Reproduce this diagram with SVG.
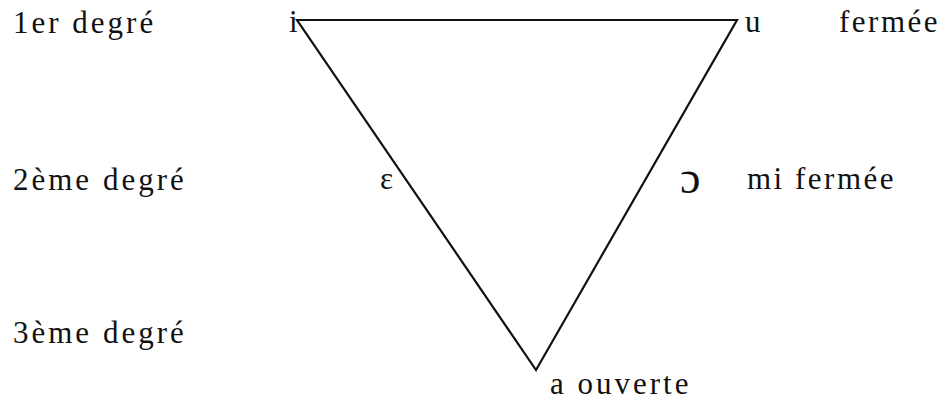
<svg xmlns="http://www.w3.org/2000/svg" width="948" height="401" viewBox="0 0 948 401" font-family="Liberation Serif, Times New Roman, DejaVu Serif, serif">
<style>
text{font-family:'Liberation Serif','Times New Roman','DejaVu Serif',serif;font-size:31px;fill:#111;letter-spacing:3px}
.edge{fill:none;stroke:#111;stroke-width:2.2;stroke-linejoin:miter}
</style>
<rect width="948" height="401" fill="#fff"/>
<g id="connectors">
<polygon class="edge" points="297,20 737,20 536,370"/>
</g>
<g id="labels-left">
<text x="13" y="33">1er degré</text>
<text x="13" y="190">2ème degré</text>
<text x="13" y="343">3ème degré</text>
</g>
<g id="node-i"><text x="289" y="32">i</text></g>
<g id="node-u"><text x="745" y="32">u</text></g>
<g id="label-fermee"><text x="839" y="32" style="letter-spacing:2.5px">fermée</text></g>
<g id="node-epsilon"><text x="380" y="189">ε</text></g>
<g id="node-open-o"><text x="680" y="193" style="font-size:46px">ɔ</text></g>
<g id="label-mi-fermee"><text x="747" y="189" style="letter-spacing:2.5px">mi fermée</text></g>
<g id="node-a"><text x="550" y="394">a ouverte</text></g>
</svg>
